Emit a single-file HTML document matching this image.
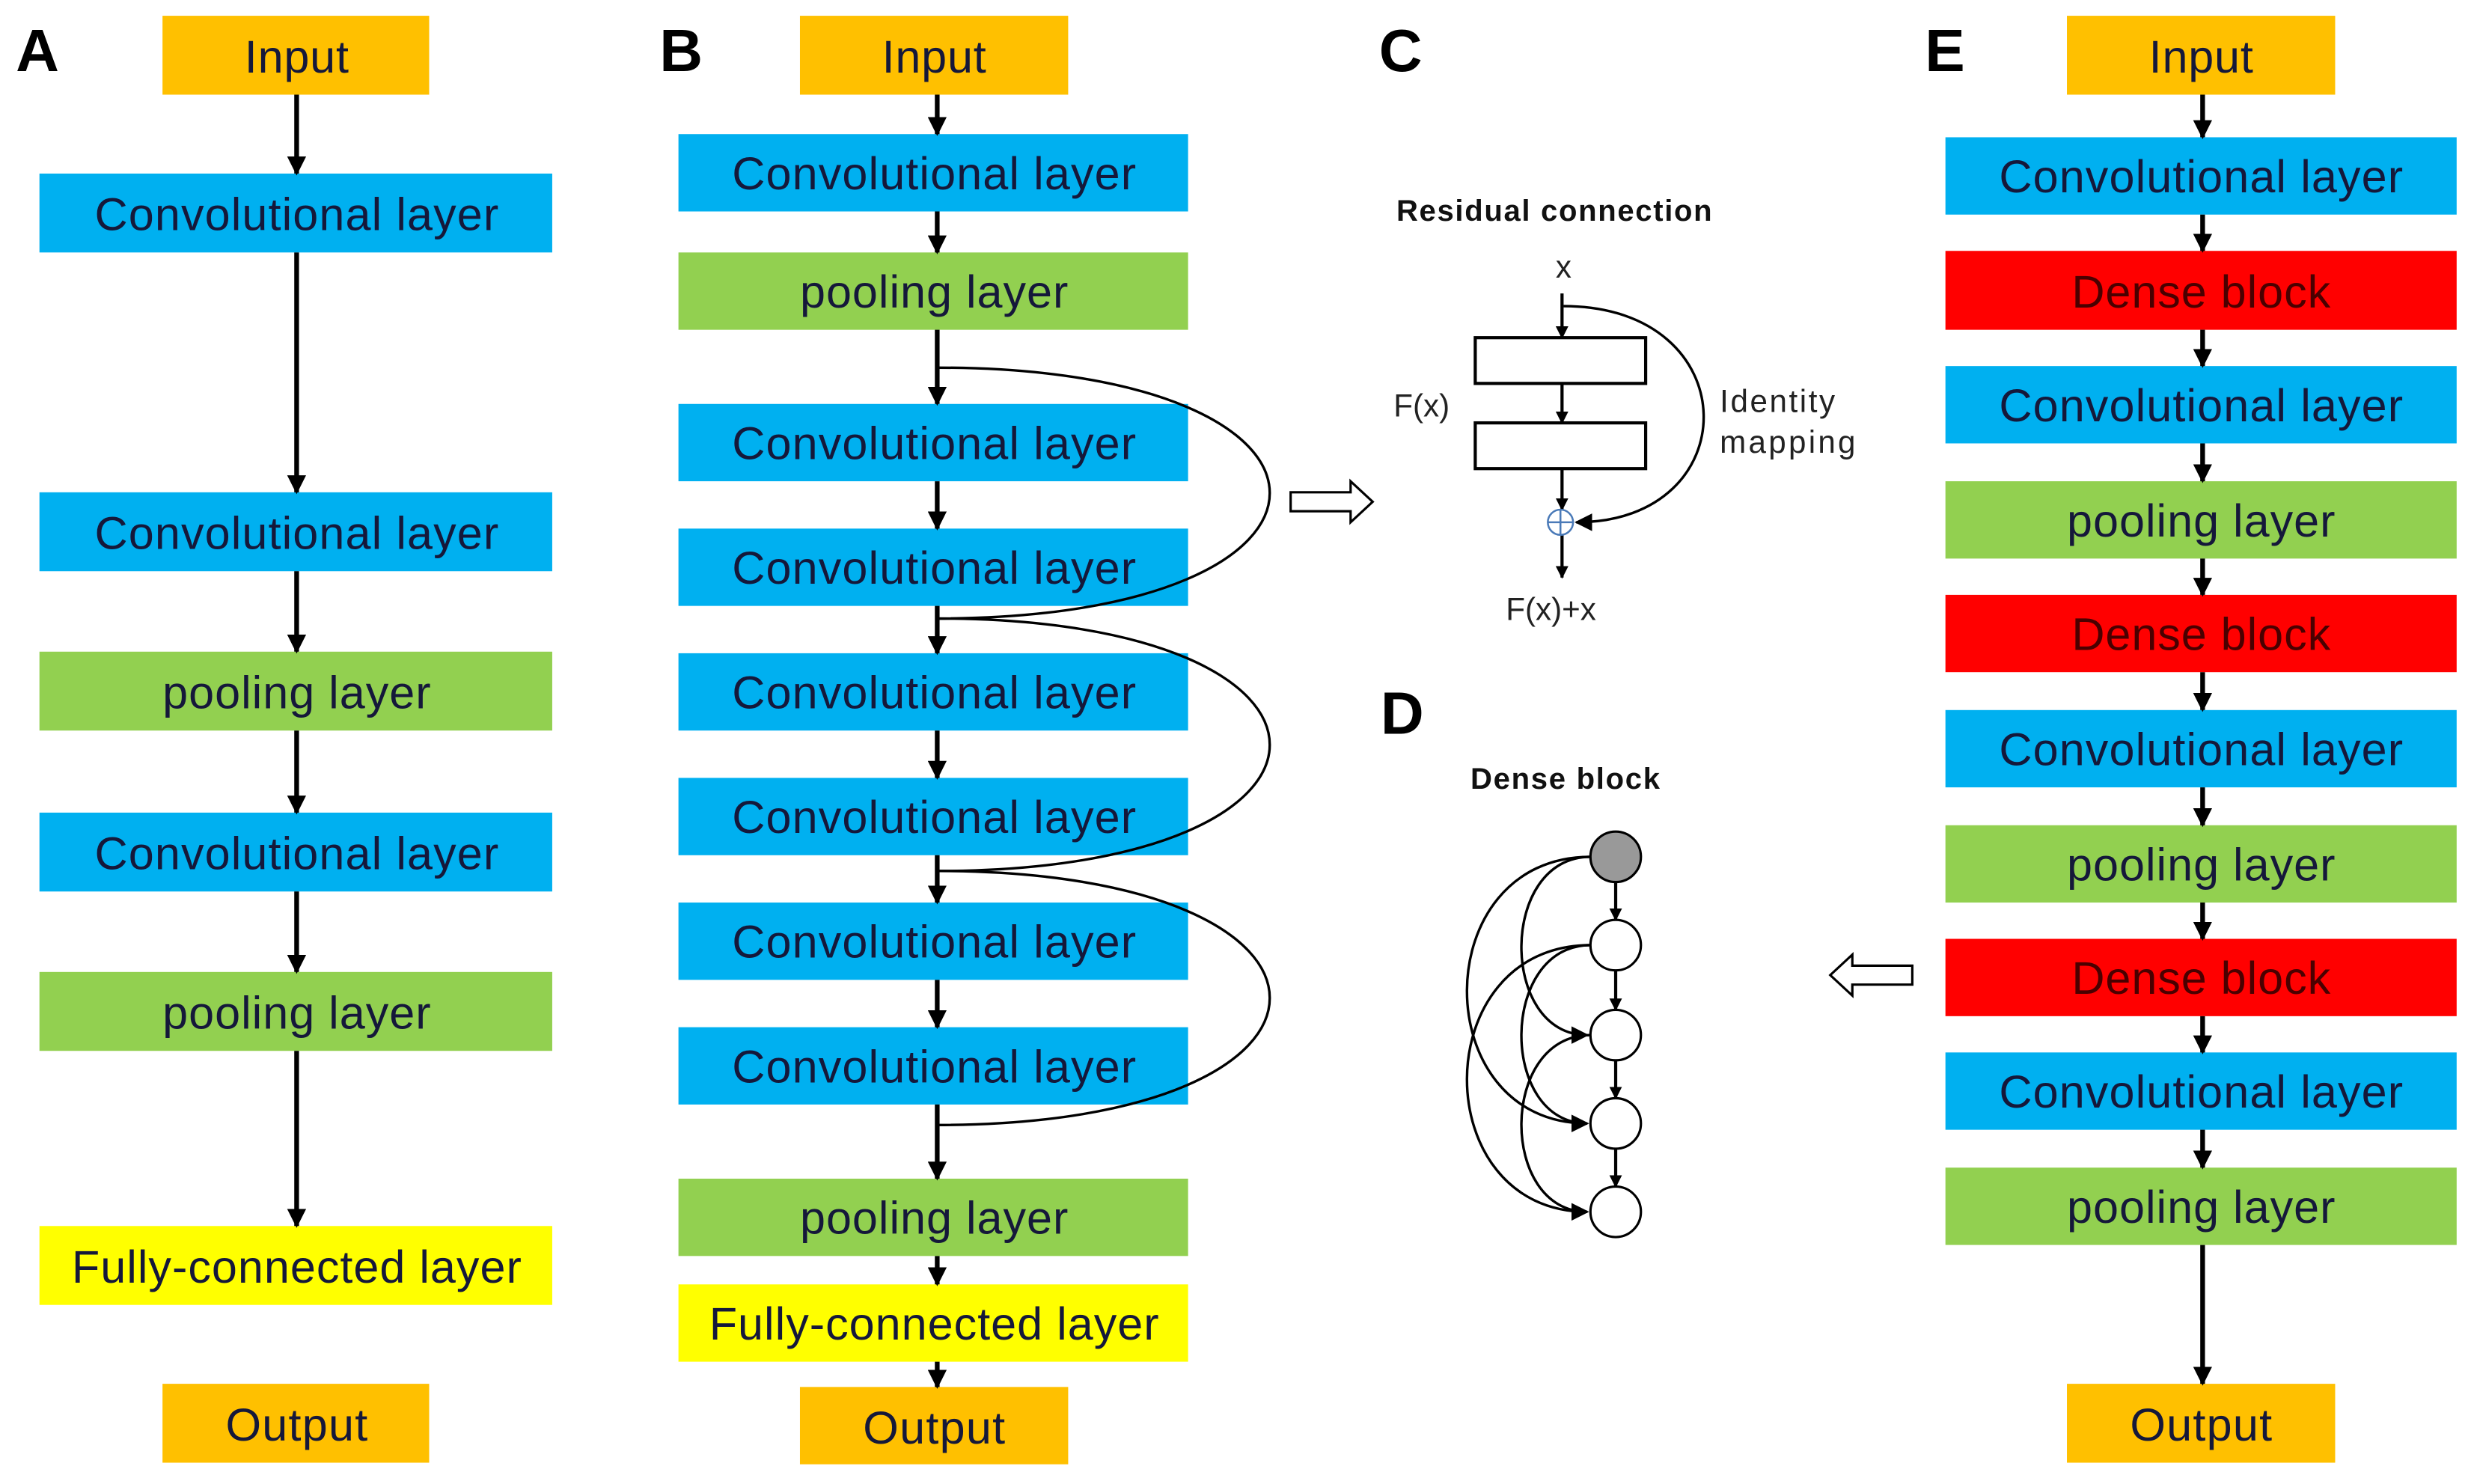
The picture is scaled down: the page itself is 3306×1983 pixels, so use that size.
<!DOCTYPE html>
<html><head><meta charset="utf-8"><style>
html,body{margin:0;padding:0;background:#fff;}
svg{display:block;}
.t{font-family:"Liberation Sans",Arial,sans-serif;font-size:29px;fill:#15183a;text-anchor:middle;dominant-baseline:central;}
.L{font-family:"Liberation Sans",Arial,sans-serif;font-size:38px;font-weight:bold;fill:#000;}
.s{font-family:"Liberation Sans",Arial,sans-serif;font-size:20px;fill:#222;}
.b{font-family:"Liberation Sans",Arial,sans-serif;font-size:19px;font-weight:bold;fill:#111;text-anchor:middle;}
.a{stroke:#000;stroke-width:3;fill:none;}
.c{stroke:#000;stroke-width:1.6;fill:none;}
</style></head><body>
<svg width="3306" height="1983" viewBox="0 0 1568 940.5" preserveAspectRatio="none" xmlns="http://www.w3.org/2000/svg">
<defs>
<marker id="m" viewBox="0 0 10 10" refX="9" refY="5" markerWidth="4" markerHeight="4" orient="auto" markerUnits="strokeWidth"><path d="M0,0 L10,5 L0,10 z" fill="#000"/></marker>
<marker id="ms" viewBox="0 0 10 10" refX="9" refY="5" markerWidth="7" markerHeight="7" orient="auto" markerUnits="strokeWidth"><path d="M0,0 L10,5 L0,10 z" fill="#000"/></marker>
</defs>
<rect width="1568" height="940.5" fill="#fff"/>

<!-- Panel A -->
<text class="L" x="10" y="45">A</text>
<rect x="103" y="10" width="169" height="50" fill="#FFC000"/><text class="t" x="188" y="36" textLength="66">Input</text>
<rect x="25" y="110" width="325" height="50" fill="#00B0F0"/><text class="t" x="188" y="136" textLength="256">Convolutional layer</text>
<rect x="25" y="312" width="325" height="50" fill="#00B0F0"/><text class="t" x="188" y="338" textLength="256">Convolutional layer</text>
<rect x="25" y="413" width="325" height="50" fill="#92D050"/><text class="t" x="188" y="439" textLength="170">pooling layer</text>
<rect x="25" y="515" width="325" height="50" fill="#00B0F0"/><text class="t" x="188" y="541" textLength="256">Convolutional layer</text>
<rect x="25" y="616" width="325" height="50" fill="#92D050"/><text class="t" x="188" y="642" textLength="170">pooling layer</text>
<rect x="25" y="777" width="325" height="50" fill="#FFFF00"/><text class="t" x="188" y="803" textLength="285">Fully-connected layer</text>
<rect x="103" y="877" width="169" height="50" fill="#FFC000"/><text class="t" x="188" y="903" textLength="90">Output</text>
<g class="a">
<line x1="188" y1="60" x2="188" y2="110" marker-end="url(#m)"/>
<line x1="188" y1="160" x2="188" y2="312" marker-end="url(#m)"/>
<line x1="188" y1="362" x2="188" y2="413" marker-end="url(#m)"/>
<line x1="188" y1="463" x2="188" y2="515" marker-end="url(#m)"/>
<line x1="188" y1="565" x2="188" y2="616" marker-end="url(#m)"/>
<line x1="188" y1="666" x2="188" y2="777" marker-end="url(#m)"/>
</g>

<!-- Panel B -->
<text class="L" x="418" y="45">B</text>
<rect x="507" y="10" width="170" height="50" fill="#FFC000"/><text class="t" x="592" y="36" textLength="66">Input</text>
<rect x="430" y="85" width="323" height="49" fill="#00B0F0"/><text class="t" x="592" y="110" textLength="256">Convolutional layer</text>
<rect x="430" y="160" width="323" height="49" fill="#92D050"/><text class="t" x="592" y="185" textLength="170">pooling layer</text>
<rect x="430" y="256" width="323" height="49" fill="#00B0F0"/><text class="t" x="592" y="281" textLength="256">Convolutional layer</text>
<rect x="430" y="335" width="323" height="49" fill="#00B0F0"/><text class="t" x="592" y="360" textLength="256">Convolutional layer</text>
<rect x="430" y="414" width="323" height="49" fill="#00B0F0"/><text class="t" x="592" y="439" textLength="256">Convolutional layer</text>
<rect x="430" y="493" width="323" height="49" fill="#00B0F0"/><text class="t" x="592" y="518" textLength="256">Convolutional layer</text>
<rect x="430" y="572" width="323" height="49" fill="#00B0F0"/><text class="t" x="592" y="597" textLength="256">Convolutional layer</text>
<rect x="430" y="651" width="323" height="49" fill="#00B0F0"/><text class="t" x="592" y="676" textLength="256">Convolutional layer</text>
<rect x="430" y="747" width="323" height="49" fill="#92D050"/><text class="t" x="592" y="772" textLength="170">pooling layer</text>
<rect x="430" y="814" width="323" height="49" fill="#FFFF00"/><text class="t" x="592" y="839" textLength="285">Fully-connected layer</text>
<rect x="507" y="879" width="170" height="49" fill="#FFC000"/><text class="t" x="592" y="905" textLength="90">Output</text>
<g class="a">
<line x1="594" y1="60" x2="594" y2="85" marker-end="url(#m)"/>
<line x1="594" y1="134" x2="594" y2="160" marker-end="url(#m)"/>
<line x1="594" y1="209" x2="594" y2="256" marker-end="url(#m)"/>
<line x1="594" y1="305" x2="594" y2="335" marker-end="url(#m)"/>
<line x1="594" y1="384" x2="594" y2="414" marker-end="url(#m)"/>
<line x1="594" y1="463" x2="594" y2="493" marker-end="url(#m)"/>
<line x1="594" y1="542" x2="594" y2="572" marker-end="url(#m)"/>
<line x1="594" y1="621" x2="594" y2="651" marker-end="url(#m)"/>
<line x1="594" y1="700" x2="594" y2="747" marker-end="url(#m)"/>
<line x1="594" y1="796" x2="594" y2="814" marker-end="url(#m)"/>
<line x1="594" y1="863" x2="594" y2="879" marker-end="url(#m)"/>
</g>
<g class="c">
<path d="M594,233 C875,233 875,392 594,392"/>
<path d="M594,392 C875,392 875,552 594,552"/>
<path d="M594,552 C875,552 875,713 594,713"/>
</g>
<path d="M818,312 L856,312 L856,305 L870,318 L856,331 L856,324 L818,324 Z" fill="#fff" stroke="#000" stroke-width="1.5"/>

<!-- Panel C -->
<text class="L" x="874" y="45">C</text>
<text class="b" x="985" y="140" textLength="200">Residual connection</text>
<text class="s" x="991" y="176" text-anchor="middle">x</text>
<rect x="935" y="214" width="108" height="29" fill="#fff" stroke="#000" stroke-width="2"/>
<rect x="935" y="268" width="108" height="29" fill="#fff" stroke="#000" stroke-width="2"/>
<g stroke="#000" stroke-width="2">
<line x1="990" y1="186" x2="990" y2="214" marker-end="url(#m)"/>
<line x1="990" y1="243" x2="990" y2="268" marker-end="url(#m)"/>
<line x1="990" y1="297" x2="990" y2="323" marker-end="url(#m)"/>
<line x1="990" y1="339" x2="990" y2="366" marker-end="url(#m)"/>
</g>
<circle cx="989" cy="331" r="8" fill="#fff" stroke="#4a7ab8" stroke-width="1.2"/>
<line x1="981" y1="331" x2="997" y2="331" stroke="#4a7ab8" stroke-width="1.2"/>
<line x1="989" y1="323" x2="989" y2="339" stroke="#4a7ab8" stroke-width="1.2"/>
<path d="M991,194 C1108,194 1108,331 999,331" class="c" marker-end="url(#ms)"/>
<text class="s" x="901" y="264" text-anchor="middle">F(x)</text>
<text class="s" x="1090" y="261" textLength="73">Identity</text>
<text class="s" x="1090" y="287" textLength="86">mapping</text>
<text class="s" x="983" y="393" text-anchor="middle">F(x)+x</text>

<!-- Panel D -->
<text class="L" x="875" y="465">D</text>
<text class="b" x="992" y="500" textLength="120">Dense block</text>
<g class="c">
<path d="M1008,543 C950,543 950,656 1006,656" marker-end="url(#ms)"/>
<path d="M1008,543 C904,543 904,712 1006,712" marker-end="url(#ms)"/>
<path d="M1008,599 C950,599 950,712 1006,712" marker-end="url(#ms)"/>
<path d="M1008,599 C904,599 904,768 1006,768" marker-end="url(#ms)"/>
<path d="M1008,656 C950,656 950,768 1006,768" marker-end="url(#ms)"/>
</g>
<g stroke="#000" stroke-width="2">
<line x1="1024" y1="559" x2="1024" y2="583" marker-end="url(#m)"/>
<line x1="1024" y1="615" x2="1024" y2="640" marker-end="url(#m)"/>
<line x1="1024" y1="672" x2="1024" y2="696" marker-end="url(#m)"/>
<line x1="1024" y1="728" x2="1024" y2="752" marker-end="url(#m)"/>
</g>
<circle cx="1024" cy="543" r="16" fill="#999" stroke="#000" stroke-width="1.5"/>
<circle cx="1024" cy="599" r="16" fill="#fff" stroke="#000" stroke-width="1.5"/>
<circle cx="1024" cy="656" r="16" fill="#fff" stroke="#000" stroke-width="1.5"/>
<circle cx="1024" cy="712" r="16" fill="#fff" stroke="#000" stroke-width="1.5"/>
<circle cx="1024" cy="768" r="16" fill="#fff" stroke="#000" stroke-width="1.5"/>
<path d="M1212,612 L1174,612 L1174,605 L1160,618 L1174,631 L1174,624 L1212,624 Z" fill="#fff" stroke="#000" stroke-width="1.5"/>

<!-- Panel E -->
<text class="L" x="1220" y="45">E</text>
<rect x="1310" y="10" width="170" height="50" fill="#FFC000"/><text class="t" x="1395" y="36" textLength="66">Input</text>
<rect x="1233" y="87" width="324" height="49" fill="#00B0F0"/><text class="t" x="1395" y="112" textLength="256">Convolutional layer</text>
<rect x="1233" y="159" width="324" height="50" fill="#FF0000"/><text class="t" x="1395" y="185" style="fill:#4a0000" textLength="164">Dense block</text>
<rect x="1233" y="232" width="324" height="49" fill="#00B0F0"/><text class="t" x="1395" y="257" textLength="256">Convolutional layer</text>
<rect x="1233" y="305" width="324" height="49" fill="#92D050"/><text class="t" x="1395" y="330" textLength="170">pooling layer</text>
<rect x="1233" y="377" width="324" height="49" fill="#FF0000"/><text class="t" x="1395" y="402" style="fill:#4a0000" textLength="164">Dense block</text>
<rect x="1233" y="450" width="324" height="49" fill="#00B0F0"/><text class="t" x="1395" y="475" textLength="256">Convolutional layer</text>
<rect x="1233" y="523" width="324" height="49" fill="#92D050"/><text class="t" x="1395" y="548" textLength="170">pooling layer</text>
<rect x="1233" y="595" width="324" height="49" fill="#FF0000"/><text class="t" x="1395" y="620" style="fill:#4a0000" textLength="164">Dense block</text>
<rect x="1233" y="667" width="324" height="49" fill="#00B0F0"/><text class="t" x="1395" y="692" textLength="256">Convolutional layer</text>
<rect x="1233" y="740" width="324" height="49" fill="#92D050"/><text class="t" x="1395" y="765" textLength="170">pooling layer</text>
<rect x="1310" y="877" width="170" height="50" fill="#FFC000"/><text class="t" x="1395" y="903" textLength="90">Output</text>
<g class="a">
<line x1="1396" y1="60" x2="1396" y2="87" marker-end="url(#m)"/>
<line x1="1396" y1="136" x2="1396" y2="159" marker-end="url(#m)"/>
<line x1="1396" y1="209" x2="1396" y2="232" marker-end="url(#m)"/>
<line x1="1396" y1="281" x2="1396" y2="305" marker-end="url(#m)"/>
<line x1="1396" y1="354" x2="1396" y2="377" marker-end="url(#m)"/>
<line x1="1396" y1="426" x2="1396" y2="450" marker-end="url(#m)"/>
<line x1="1396" y1="499" x2="1396" y2="523" marker-end="url(#m)"/>
<line x1="1396" y1="572" x2="1396" y2="595" marker-end="url(#m)"/>
<line x1="1396" y1="644" x2="1396" y2="667" marker-end="url(#m)"/>
<line x1="1396" y1="716" x2="1396" y2="740" marker-end="url(#m)"/>
<line x1="1396" y1="789" x2="1396" y2="877" marker-end="url(#m)"/>
</g>
</svg>
</body></html>
